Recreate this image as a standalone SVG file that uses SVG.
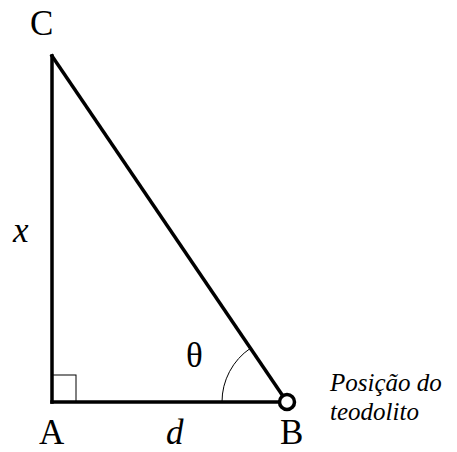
<svg xmlns="http://www.w3.org/2000/svg" width="457" height="452" viewBox="0 0 457 452">
<style>
.ln{stroke:#000;stroke-width:3.5;fill:none;stroke-linecap:square}
.thin{stroke:#000;stroke-width:1;fill:none}
.t{font-family:"Liberation Serif","Times New Roman",serif;fill:#000}
.big{font-size:35px}
.it{font-style:italic}
</style>
<rect width="457" height="452" fill="#fff"/>
<g id="connectors">
<line class="ln" x1="52" y1="56" x2="52" y2="402"/>
<line class="ln" x1="52" y1="402" x2="287" y2="402"/>
<line class="ln" x1="52" y1="56" x2="287" y2="402"/>
<rect class="thin" x="52" y="375" width="24" height="27"/>
<path class="thin" d="M222 402 A65 65 0 0 1 250.5 348.2"/>
</g>
<g id="C"><text class="t big" x="30" y="35">C</text></g>
<g id="A"><text class="t big" x="39" y="444">A</text></g>
<g id="B"><circle cx="287" cy="402" r="7.5" fill="#fff" stroke="#000" stroke-width="3.5"/><text class="t big" x="280" y="444">B</text></g>
<g id="labels">
<text class="t big it" x="13" y="242">x</text>
<text class="t big it" x="166" y="444">d</text>
<text class="t big" x="186" y="367">θ</text>
<text class="t it" font-size="25" x="330" y="391">Posição do</text>
<text class="t it" font-size="25" x="330" y="420">teodolito</text>
</g>
</svg>
